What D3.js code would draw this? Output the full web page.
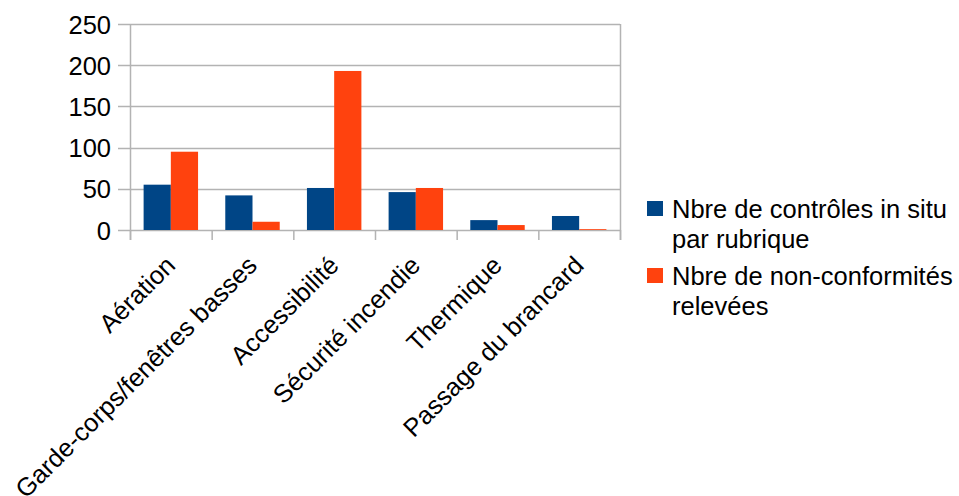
<!DOCTYPE html>
<html>
<head>
<meta charset="utf-8">
<script src="https://cdn.jsdelivr.net/npm/d3@7"></script>
<style>
  html, body { margin: 0; padding: 0; background: #fff; }
  svg { display: block; font-family: "Liberation Sans", Arial, sans-serif; }
</style>
</head>
<body>
<svg id="chart" width="959" height="496"></svg>
<script>
// Categories and series
const categories = ["Aération", "Garde-corps/fenêtres basses", "Accessibilité", "Sécurité incendie", "Thermique", "Passage du brancard"];
const controles = [55, 42, 51, 46, 12, 17];
const nonConformites = [95, 10, 193, 51, 6, 1];
const yTicks = [0, 50, 100, 150, 200, 250];
const seriesNames = [["Nbre de contrôles in situ", "par rubrique"], ["Nbre de non-conformités", "relevées"]];
const colors = ["#004586", "#ff420e"];

const svg = d3.select("#chart");
const plot = { left: 130, right: 620, top: 24, bottom: 230 };
const fontSize = 25.5;

const x = d3.scaleBand().domain(categories).range([plot.left, plot.right]).paddingInner(0).paddingOuter(0);
// two bars per category, half a bar of space on each side
const inner = d3.scaleBand().domain([0, 1]).range([0, x.bandwidth()]).paddingInner(0).paddingOuter(0.5);
const y = d3.scaleLinear().domain([0, 250]).range([plot.bottom, plot.top]);

const grid = "#b3b3b3";

// horizontal gridlines with short outer ticks
svg.append("g").selectAll("line").data(yTicks).join("line")
  .attr("x1", plot.left - 12).attr("x2", plot.right)
  .attr("y1", d => Math.round(y(d)) + 0.5).attr("y2", d => Math.round(y(d)) + 0.5)
  .attr("stroke", grid).attr("stroke-width", 1.5);

// y-axis labels
const yAxis = d3.axisLeft(y).tickValues(yTicks).tickSize(0).tickPadding(0);
const ya = svg.append("g").attr("transform", `translate(${plot.left - 19},0)`).call(yAxis);
ya.select(".domain").remove();
ya.attr("font-size", null).attr("font-family", null);
ya.selectAll("text").attr("font-size", fontSize).attr("fill", "#000").attr("dy", "0.36em");

// vertical lines: left axis, right border
svg.append("g").selectAll("line").data([plot.left, plot.right]).join("line")
  .attr("x1", d => d + 0.5).attr("x2", d => d + 0.5)
  .attr("y1", plot.top).attr("y2", plot.bottom + 10)
  .attr("stroke", grid).attr("stroke-width", 1.5);

// category boundary ticks below the axis
const boundaries = categories.map(c => x(c)).concat([plot.right]);
svg.append("g").selectAll("line").data(boundaries).join("line")
  .attr("x1", d => d + 0.5).attr("x2", d => d + 0.5)
  .attr("y1", plot.bottom).attr("y2", plot.bottom + 10)
  .attr("stroke", grid).attr("stroke-width", 1.5);

// bars
const series = [controles, nonConformites];
series.forEach((vals, si) => {
  svg.append("g").selectAll("rect").data(vals).join("rect")
    .attr("x", (d, i) => x(categories[i]) + inner(si))
    .attr("width", inner.bandwidth())
    .attr("y", d => y(d))
    .attr("height", d => y(0) - y(d))
    .attr("fill", colors[si]);
});

// rotated category labels
svg.append("g").selectAll("text").data(categories).join("text")
  .attr("transform", d => `translate(${x(d) + x.bandwidth() / 2 + 6},${plot.bottom + 37}) rotate(-45)`)
  .attr("text-anchor", "end")
  .attr("font-size", fontSize)
  .attr("fill", "#000")
  .text(d => d);

// legend
const legend = svg.append("g");
const legendTop = [201, 268];
seriesNames.forEach((lines, si) => {
  legend.append("rect").attr("x", 647).attr("y", legendTop[si]).attr("width", 16).attr("height", 15).attr("fill", colors[si]);
  lines.forEach((t, li) => {
    legend.append("text").attr("x", 672).attr("y", legendTop[si] + 17 + li * 29.5)
      .attr("font-size", fontSize).attr("fill", "#000").text(t);
  });
});
</script>
</body>
</html>
